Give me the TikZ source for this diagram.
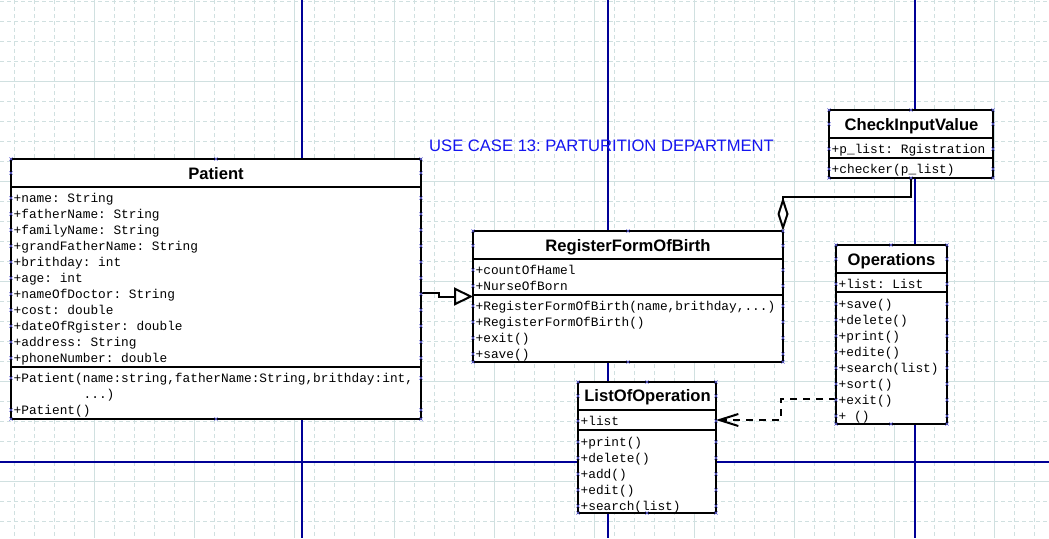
\documentclass[tikz,border=0pt]{standalone}
\usepackage{fontspec}
\usetikzlibrary{arrows.meta}
\newfontfamily\umlmono{Liberation Mono}
\newfontfamily\umlsans{Liberation Sans}
\frenchspacing
\definecolor{gridc}{RGB}{208,224,224}
\definecolor{pagec}{RGB}{0,0,150}
\definecolor{titleblue}{RGB}{20,20,240}
\definecolor{hmarkc}{RGB}{95,95,215}
\tikzset{
  box/.style={draw=black, line width=2.2pt, fill=white, anchor=north west, inner sep=0pt, outer sep=0pt},
  sepline/.style={line width=2pt},
  attr/.style={anchor=base west, inner sep=0pt, font=\umlmono\frenchspacing\fontsize{12.8}{14}\selectfont},
  ctitle/.style={anchor=base, inner sep=0pt, font=\umlsans\bfseries\fontsize{16.6}{18}\selectfont},
  gridd/.style={gridc, line width=1pt, dash pattern=on 4pt off 3pt},
  grids/.style={gridc, line width=1pt},
  pageline/.style={pagec, line width=1.2pt},
  hm/.style={hmarkc, line width=0.6pt},
  gen/.style={line width=2pt, -{Triangle[open, length=19pt, width=18pt]}},
  agg/.style={line width=2pt, -{Diamond[fill=white, length=34pt, width=11pt]}},
  dep/.style={line width=2pt, dash pattern=on 7pt off 6pt, -{Straight Barb[length=19pt, width=12pt]}}
}
\newcommand\umlx[2]{\draw[hm] (#1,#2) +(-1.6,-1.6) -- +(1.6,1.6) +(-1.6,1.6) -- +(1.6,-1.6);}
\newcommand\umlsides[3]{\foreach \yy in {#3}{\umlx{#1}{\yy}\umlx{#2}{\yy}}}
\begin{document}
\begin{tikzpicture}[x=1pt, y=-1pt]
\useasboundingbox (0,0) rectangle (1049,538);
\fill[white] (0,0) rectangle (1049,538);
% grid
\foreach \x in {14,34,...,1049} \draw[gridd] (\x,0) -- (\x,538);
\foreach \y in {1,21,...,538} \draw[gridd] (0,\y) -- (1049,\y);
\foreach \x in {94,194,...,994} \draw[grids] (\x,0) -- (\x,538);
\foreach \y in {81,181,...,481} \draw[grids] (0,\y) -- (1049,\y);
% page boundaries
\draw[pageline] (302,0) -- (302,538);
\draw[pageline] (608,0) -- (608,538);
\draw[pageline] (915,0) -- (915,538);
\draw[pageline] (0,462) -- (1049,462);
% title
\node[anchor=base west, inner sep=0pt, text=titleblue, font=\umlsans\fontsize{16.6}{18}\selectfont] (uctitle) at (429,151) {USE CASE 13: PARTURITION DEPARTMENT};
% Patient
\node[box, minimum width=410pt, minimum height=260pt] (patient) at (11,159) {};
\draw[sepline] (11,187.3) -- (421,187.3);
\draw[sepline] (11,366.7) -- (421,366.7);
\node[ctitle] (patientT) at (216,179) {Patient};
\foreach \t [count=\i] in {{+name: String},{+fatherName: String},{+familyName: String},{+grandFatherName: String},{+brithday: int},{+age: int},{+nameOfDoctor: String},{+cost: double},{+dateOfRgister: double},{+address: String},{+phoneNumber: double}}
  \node[attr] (pa\i) at (13.5,186+16*\i) {\t};
\node[attr] (pm1) at (13.5,382) {+Patient(name:string,fatherName:String,brithday:int,};
\node[attr] (pm1b) at (83.5,398) {...)};
\node[attr] (pm2) at (13.5,414) {+Patient()};
% RegisterFormOfBirth
\node[box, minimum width=310pt, minimum height=131pt] (rfob) at (473,231) {};
\draw[sepline] (473,258.7) -- (783,258.7);
\draw[sepline] (473,295.3) -- (783,295.3);
\node[ctitle] (rfobT) at (628,251) {RegisterFormOfBirth};
\node[attr] (ra1) at (475.5,274) {+countOfHamel};
\node[attr] (ra2) at (475.5,290) {+NurseOfBorn};
\node[attr] (rm1) at (475.5,310) {+RegisterFormOfBirth(name,brithday,...)};
\node[attr] (rm2) at (475.5,326) {+RegisterFormOfBirth()};
\node[attr] (rm3) at (475.5,342) {+exit()};
\node[attr] (rm4) at (475.5,358) {+save()};
% CheckInputValue
\node[box, minimum width=164pt, minimum height=68pt] (check) at (829,110) {};
\draw[sepline] (829,137.7) -- (993,137.7);
\draw[sepline] (829,157.7) -- (993,157.7);
\node[ctitle] (checkT) at (911.5,130) {CheckInputValue};
\node[attr] (ca1) at (831.5,153) {+p\_list: Rgistration};
\node[attr] (cm1) at (831.5,173) {+checker(p\_list)};
% Operations
\node[box, minimum width=111pt, minimum height=179pt] (ops) at (836,245) {};
\draw[sepline] (836,273.3) -- (947,273.3);
\draw[sepline] (836,292.3) -- (947,292.3);
\node[ctitle] (opsT) at (891.5,265) {Operations};
\node[attr] (oa1) at (838.5,288) {+list: List};
\foreach \t [count=\i] in {{+save()},{+delete()},{+print()},{+edite()},{+search(list)},{+sort()},{+exit()},{+ ()}}
  \node[attr] (om\i) at (838.5,292+16*\i) {\t};
% ListOfOperation
\node[box, minimum width=138pt, minimum height=131pt] (listop) at (578,382) {};
\draw[sepline] (578,409.7) -- (716,409.7);
\draw[sepline] (578,430) -- (716,430);
\node[ctitle] (listopT) at (647.5,401.7) {ListOfOperation};
\node[attr] (la1) at (580.5,425) {+list};
\foreach \t [count=\i] in {{+print()},{+delete()},{+add()},{+edit()},{+search(list)}}
  \node[attr] (lm\i) at (580.5,430+16*\i) {\t};
% connectors
\coordinate (genY) at (0,293);
\coordinate (genX) at (439,0);
\draw[gen] (patient.east |- genY) -- (genX |- genY) -- (genX |- rfob.west) -- (rfob.west);
\coordinate (aggY) at (0,197);
\draw[agg] (check.south) -- (check.south |- aggY) -- (rfob.north east |- aggY) -- (rfob.north east);
\coordinate (depY1) at (0,399);
\coordinate (depY2) at (0,420);
\coordinate (depX) at (781,0);
\draw[dep] (ops.west |- depY1) -- (depX |- depY1) -- (depX |- depY2) -- (listop.east |- depY2);
% handle marks
\umlsides{11}{421}{159,173,198,214,230,246,262,278,294,310,326,342,358,378,410,419}
\umlx{216}{159}\umlx{216}{419}
\umlsides{473}{783}{231,245.7,270,286,306,322,338,354,362}
\umlx{628}{231}\umlx{628}{362}
\umlsides{829}{993}{110,124,149,169,178}
\umlx{911}{110}\umlx{911}{178}
\umlsides{836}{947}{245,259,284,304,320,336,352,368,384,400,416,424}
\umlx{891}{245}\umlx{891}{424}
\umlsides{578}{716}{382,396,421,442,458,474,490,506,513}
\umlx{647}{382}\umlx{647}{513}
\end{tikzpicture}
\end{document}
